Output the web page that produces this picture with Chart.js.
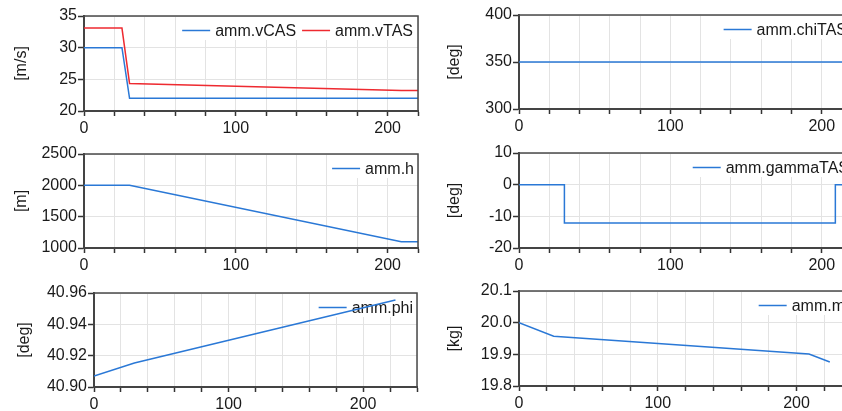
<!DOCTYPE html>
<html>
<head>
<meta charset="utf-8">
<script src="https://cdn.jsdelivr.net/npm/chart.js@4.4.1/dist/chart.umd.min.js"></script>
<style>
  html, body { margin: 0; padding: 0; background: #fff; overflow: hidden; width: 842px; height: 411px; }
  canvas { position: absolute; }
</style>
</head>
<body>
<canvas id="c1"></canvas>
<canvas id="c2"></canvas>
<canvas id="c3"></canvas>
<canvas id="c4"></canvas>
<canvas id="c5"></canvas>
<canvas id="c6"></canvas>
<script>
// values (time in s)
const timeSpeed = [0, 25, 30, 209, 224]
const vCAS = [30, 30, 22, 22, 22]
const vTAS = [33.1, 33.1, 24.35, 23.25, 23.25]

const timeChi = [0, 224]
const chiTAS = [350, 350]

const timeH = [0, 30, 209, 224]
const height = [2000, 2000, 1100, 1100]

const timeGamma = [0, 30, 30, 209, 209, 224]
const gammaTAS = [0, 0, -12.1, -12.1, 0, 0]

const timePhi = [0, 30, 224]
const phi = [40.907, 40.9153, 40.9555]

const timeMass = [0, 25, 209, 224]
const mass = [20.0, 19.957, 19.901, 19.876]

const BLUE = '#2a78d6'
const RED = '#ee2a30'
const FONT = 'Liberation Sans, Arial, sans-serif'
const TEXT = '#1a1a1a'

const pts = (xs, ys) => xs.map((x, i) => ({x: x, y: ys[i]}))

// legend drawn inside the plot, under the data lines
const boxLegend = {
  id: 'boxLegend',
  beforeDatasetsDraw(chart, args, opts) {
    const {ctx, chartArea} = chart
    ctx.save()
    ctx.font = `16px ${FONT}`
    const sample = 28, gap = 5, spacing = 6
    const items = chart.data.datasets.map(ds => ({label: ds.label, color: ds.borderColor, w: ctx.measureText(ds.label).width}))
    let total = 0
    for (const it of items) total += sample + gap + it.w
    total += spacing * (items.length - 1)
    let x = chartArea.right - opts.inset - total
    const y = chartArea.top + 14.5
    ctx.fillStyle = '#fff'
    ctx.fillRect(x - 4, chartArea.top + 1, chartArea.right - x + 4, 23)
    ctx.textBaseline = 'middle'
    ctx.textAlign = 'left'
    for (const it of items) {
      ctx.strokeStyle = it.color
      ctx.lineWidth = 1.5
      ctx.beginPath()
      ctx.moveTo(x, y)
      ctx.lineTo(x + sample, y)
      ctx.stroke()
      ctx.fillStyle = TEXT
      ctx.fillText(it.label, x + sample + gap, y + 1)
      x += sample + gap + it.w + spacing
    }
    ctx.restore()
  }
}

// top and right edges of the plot box
const frame = {
  id: 'frame',
  afterDatasetsDraw(chart) {
    const {ctx, chartArea} = chart
    ctx.save()
    ctx.strokeStyle = '#4a4a4a'
    ctx.lineWidth = 1.5
    ctx.beginPath()
    ctx.moveTo(chartArea.left, chartArea.top)
    ctx.lineTo(chartArea.right, chartArea.top)
    ctx.lineTo(chartArea.right, chartArea.bottom)
    ctx.stroke()
    ctx.restore()
  }
}

function makeChart(id, spec) {
  const canvas = document.getElementById(id)
  canvas.width = spec.w
  canvas.height = spec.h
  canvas.style.left = `${spec.left}px`
  canvas.style.top = `${spec.top}px`
  canvas.style.width = `${spec.w}px`
  canvas.style.height = `${spec.h}px`
  return new Chart(canvas, {
    type: 'line',
    data: {
      datasets: spec.series.map(s => ({
        label: s.label,
        data: s.data,
        borderColor: s.color,
        borderWidth: 1.5,
        pointRadius: 0,
        tension: 0,
        fill: false
      }))
    },
    plugins: [boxLegend, frame],
    options: {
      responsive: false,
      animation: false,
      devicePixelRatio: 1,
      layout: {padding: {top: spec.padTop, right: spec.padRight, left: 0, bottom: 0}},
      plugins: {
        legend: {display: false},
        tooltip: {enabled: false},
        boxLegend: {inset: spec.inset}
      },
      scales: {
        x: {
          type: 'linear',
          min: 0,
          max: spec.xMax,
          afterFit: s => { s.height = 26 },
          grid: {color: '#e3e3e3', lineWidth: 1, tickLength: 5, tickColor: '#333', tickWidth: 1.5},
          border: {color: '#444', width: 2},
          ticks: {
            stepSize: 20,
            autoSkip: false,
            maxRotation: 0,
            padding: 3,
            color: TEXT,
            font: {family: FONT, size: 16},
            callback: v => (Math.round(v) % 100 === 0 ? String(Math.round(v)) : '')
          }
        },
        y: {
          min: spec.yMin,
          max: spec.yMax,
          afterFit: s => { s.width = spec.yW },
          grid: {color: '#e3e3e3', lineWidth: 1, tickLength: 6, tickColor: '#333', tickWidth: 1.5},
          border: {color: '#444', width: 2},
          title: {display: true, text: spec.unit, color: TEXT, font: {family: FONT, size: 16}, padding: {top: spec.titlePad, bottom: 0}},
          ticks: {
            stepSize: spec.yStep,
            autoSkip: false,
            padding: 1,
            color: TEXT,
            font: {family: FONT, size: 16},
            callback: v => v.toFixed(spec.dec)
          }
        }
      }
    }
  })
}

makeChart('c1', {
  left: 0, top: 0, w: 421, h: 137, padTop: 16, padRight: 3, yW: 84, titlePad: 12, inset: 5,
  xMax: 220, yMin: 20, yMax: 35, yStep: 5, dec: 0, unit: '[m/s]',
  series: [
    {label: 'amm.vCAS', data: pts(timeSpeed, vCAS), color: BLUE},
    {label: 'amm.vTAS', data: pts(timeSpeed, vTAS), color: RED}
  ]
})

makeChart('c2', {
  left: 421, top: 0, w: 435, h: 135, padTop: 15, padRight: 4, yW: 98, titlePad: 24, inset: 5,
  xMax: 220, yMin: 300, yMax: 400, yStep: 50, dec: 0, unit: '[deg]',
  series: [{label: 'amm.chiTAS', data: pts(timeChi, chiTAS), color: BLUE}]
})

makeChart('c3', {
  left: 0, top: 137, w: 421, h: 137, padTop: 17, padRight: 3, yW: 84, titlePad: 12, inset: 4,
  xMax: 220, yMin: 1000, yMax: 2500, yStep: 500, dec: 0, unit: '[m]',
  series: [{label: 'amm.h', data: pts(timeH, height), color: BLUE}]
})

makeChart('c4', {
  left: 421, top: 137, w: 435, h: 137, padTop: 16, padRight: 4, yW: 98, titlePad: 24, inset: 3,
  xMax: 220, yMin: -20, yMax: 10, yStep: 10, dec: 0, unit: '[deg]',
  series: [{label: 'amm.gammaTAS', data: pts(timeGamma, gammaTAS), color: BLUE}]
})

makeChart('c5', {
  left: 0, top: 274, w: 421, h: 139, padTop: 19, padRight: 4, yW: 94, titlePad: 15, inset: 4,
  xMax: 240, yMin: 40.9, yMax: 40.96, yStep: 0.02, dec: 2, unit: '[deg]',
  series: [{label: 'amm.phi', data: pts(timePhi, phi), color: BLUE}]
})

makeChart('c6', {
  left: 421, top: 274, w: 435, h: 138, padTop: 17, padRight: 4, yW: 98, titlePad: 24, inset: 7,
  xMax: 240, yMin: 19.8, yMax: 20.1, yStep: 0.1, dec: 1, unit: '[kg]',
  series: [{label: 'amm.m', data: pts(timeMass, mass), color: BLUE}]
})
</script>
</body>
</html>
